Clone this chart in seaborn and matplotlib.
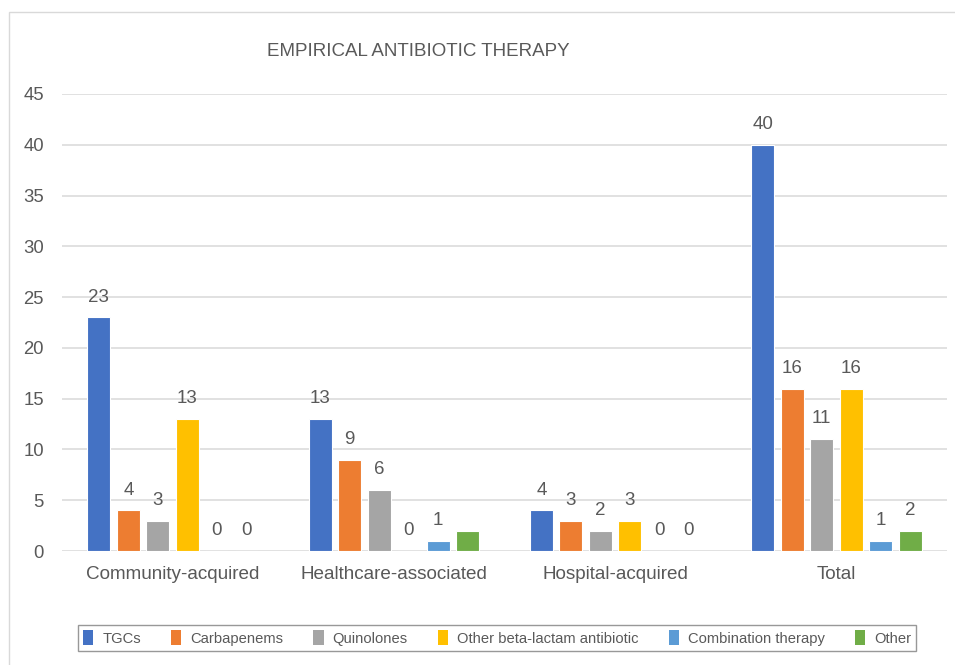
import matplotlib
matplotlib.use("Agg")
import matplotlib.pyplot as plt
from matplotlib.patches import Rectangle, Patch
import seaborn as sns
import pandas as pd

# Categories and therapy series
categories = ["Community-acquired", "Healthcare-associated", "Hospital-acquired", "Total"]
therapies = ["TGCs", "Carbapenems", "Quinolones", "Other beta-lactam antibiotic",
             "Combination therapy", "Other"]
tgcs = [23, 13, 4, 40]
carbapenems = [4, 9, 3, 16]
quinolones = [3, 6, 2, 11]
other_beta_lactam = [13, 0, 3, 16]
combination = [0, 1, 0, 1]
other = [0, 2, 0, 2]
# which data labels are printed (one per category, per series)
label_shown = {
    "TGCs": [True, True, True, True],
    "Carbapenems": [True, True, True, True],
    "Quinolones": [True, True, True, True],
    "Other beta-lactam antibiotic": [True, True, True, True],
    "Combination therapy": [True, True, True, True],
    "Other": [True, False, True, True],
}
colors = ["#4472C4", "#ED7D31", "#A5A5A5", "#FFC000", "#5B9BD5", "#70AD47"]
yticks = [0, 5, 10, 15, 20, 25, 30, 35, 40, 45]

series = [tgcs, carbapenems, quinolones, other_beta_lactam, combination, other]
rows = []
for name, vals in zip(therapies, series):
    for cat, v in zip(categories, vals):
        rows.append({"category": cat, "therapy": name, "count": v})
df = pd.DataFrame(rows)

sns.set_theme(style="white")
plt.rcParams["font.family"] = ["Liberation Sans", "DejaVu Sans"]
text_color = "#595959"
grid_color = "#D9D9D9"

fig = plt.figure(figsize=(9.55, 6.65), dpi=100)
fig.patch.set_facecolor("white")
ax = fig.add_axes([62 / 955, 1 - 551 / 665, 885 / 955, 457 / 665])

sns.barplot(data=df, x="category", y="count", hue="therapy",
            order=categories, hue_order=therapies, palette=colors,
            errorbar=None, width=0.8, gap=0.22, edgecolor="white",
            linewidth=0.8, saturation=1, ax=ax, legend=False, zorder=3)

ax.set_ylim(0, 45)
ax.set_xlim(-0.5, 3.5)
ax.set_yticks(yticks)
ax.yaxis.grid(True, color=grid_color, linewidth=1.1, zorder=0)
ax.set_axisbelow(True)
for s in ax.spines.values():
    s.set_visible(False)
ax.set_xlabel("")
ax.set_ylabel("")
ax.tick_params(axis="y", length=0, pad=13, labelsize=13.3, labelcolor=text_color)
ax.tick_params(axis="x", length=0, pad=11, labelsize=13.6, labelcolor=text_color)

# value labels above each bar
for container, name, vals in zip(ax.containers, therapies, series):
    labels = [str(v) if shown else "" for v, shown in zip(vals, label_shown[name])]
    ax.bar_label(container, labels=labels, padding=8.5, fontsize=13.5, color=text_color)

fig.text(418 / 955, 1 - 52 / 665, "EMPIRICAL ANTIBIOTIC THERAPY",
         ha="center", va="center", fontsize=13.5, color=text_color)

handles = [Patch(facecolor=c, edgecolor="none") for c in colors]
leg = fig.legend(handles, therapies, loc="center", ncol=6,
                 bbox_to_anchor=(497 / 955, 1 - 638 / 665),
                 fontsize=10.6, frameon=True, fancybox=False,
                 edgecolor="#7F7F7F", handlelength=0.7, handleheight=1.1,
                 handletextpad=0.6, columnspacing=2.05, borderpad=0.35,
                 labelcolor=text_color)
leg.get_frame().set_linewidth(1.0)

# outer chart border (top and left edges visible)
fig.patches.append(Rectangle((9 / 955, -0.1), 1.2, 1.1 - 12 / 665,
                             transform=fig.transFigure, fill=False,
                             edgecolor=grid_color, linewidth=1.0))

fig.savefig("out.png", dpi=100, facecolor="white")
